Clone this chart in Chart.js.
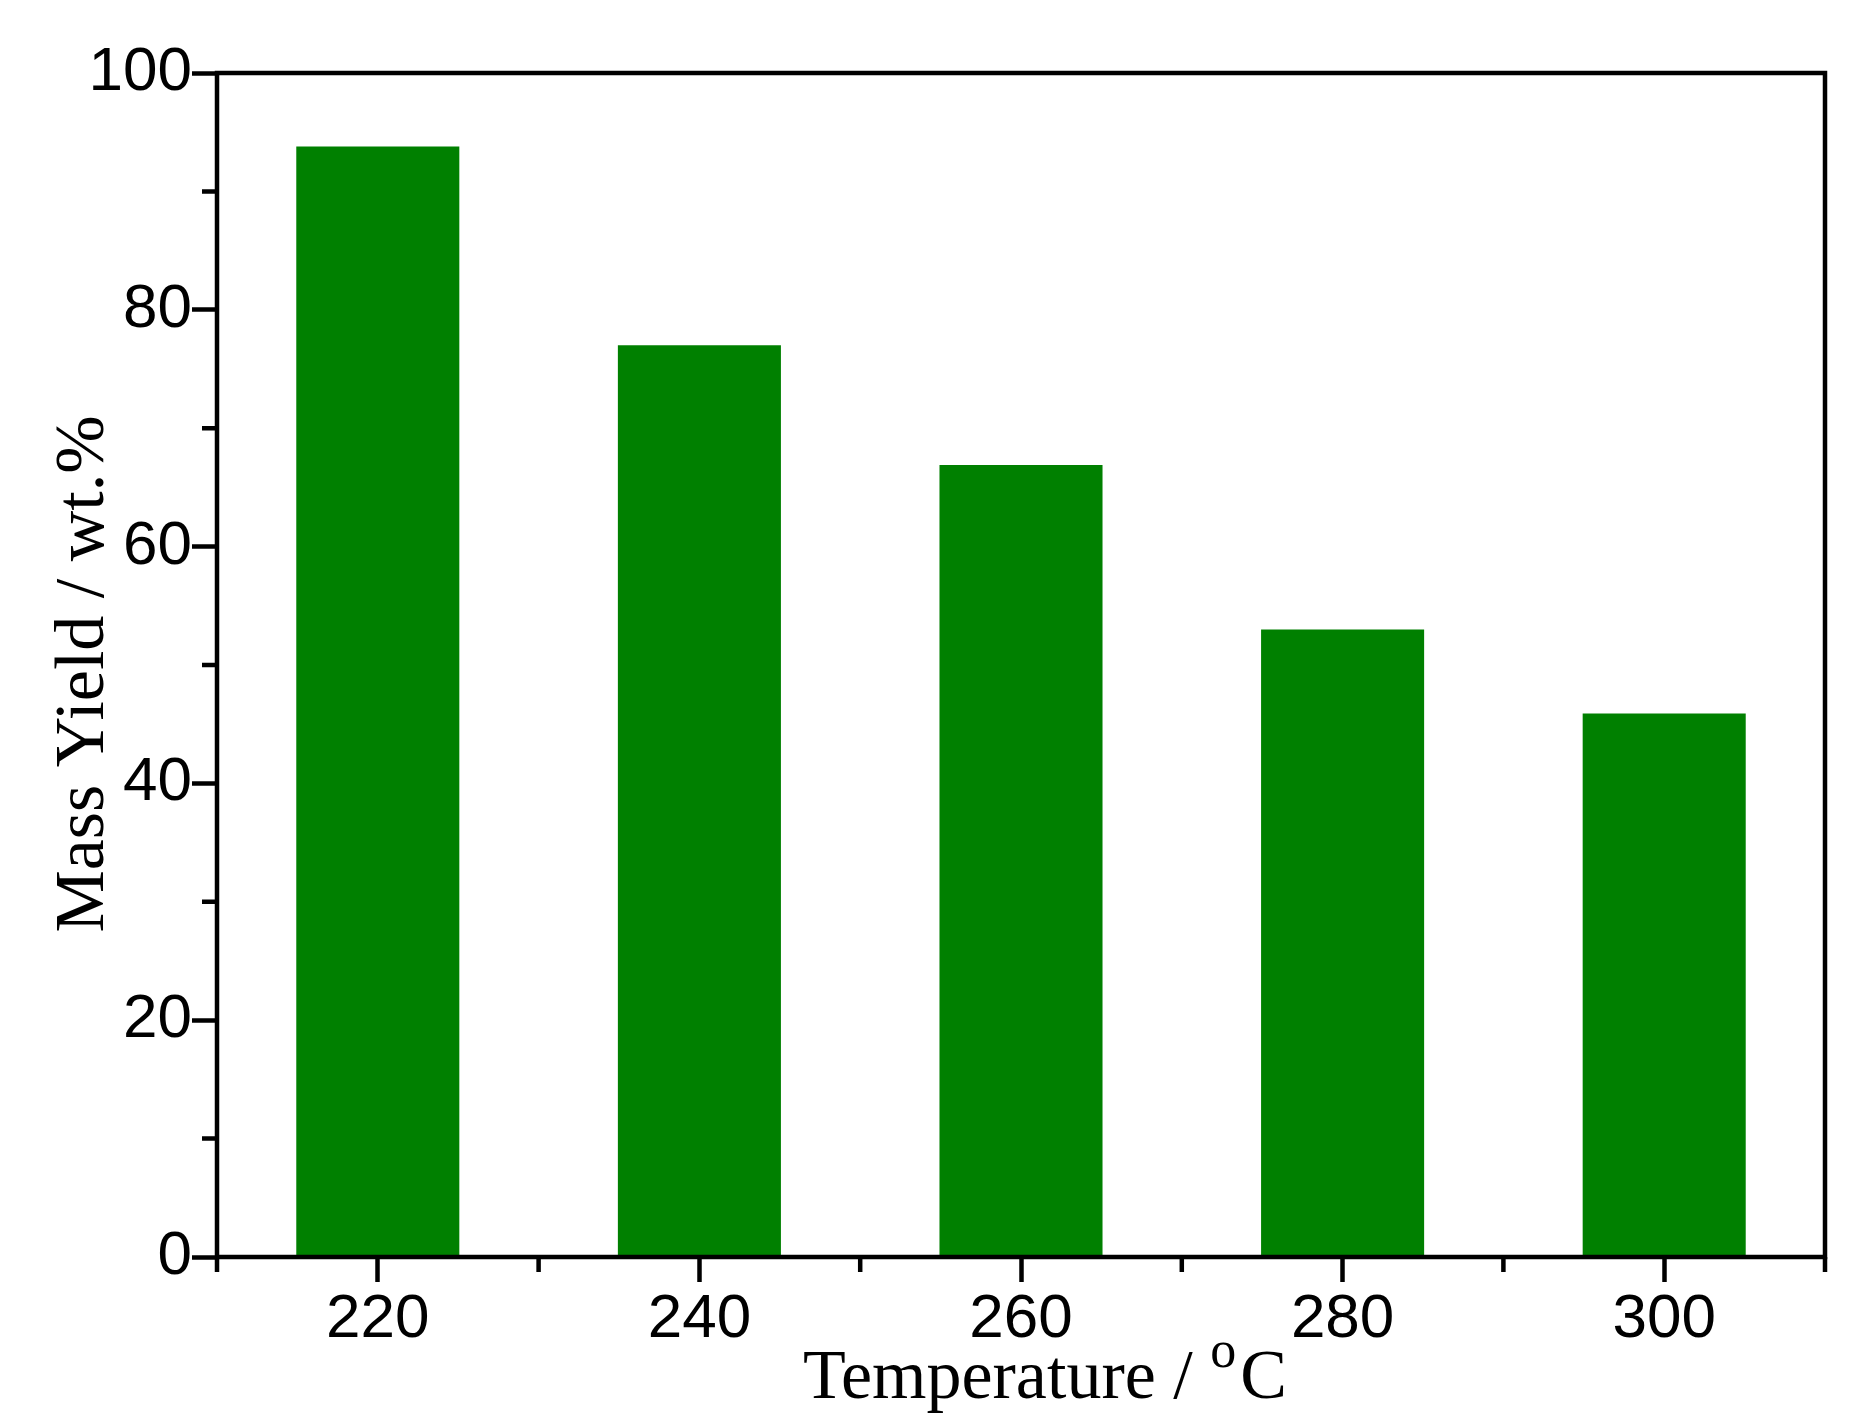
<!DOCTYPE html>
<html>
<head>
<meta charset="utf-8">
<script src="https://cdn.jsdelivr.net/npm/chart.js@4/dist/chart.umd.min.js"></script>
<style>
  html, body { margin: 0; padding: 0; background: #fff; }
  #wrap { width: 1866px; height: 1428px; position: relative; }
</style>
</head>
<body>
<div id="wrap"><canvas id="chart"></canvas></div>
<script>
/* ---------- data ---------- */
const temperatures = ['220', '240', '260', '280', '300'];
const massYield    = [93.8, 77.0, 66.9, 53.0, 45.9];
const yTicks       = [0, 20, 40, 60, 80, 100];
const yMinorTicks  = [10, 30, 50, 70, 90];

/* ---------- look ---------- */
const LINE = 4.5;
const MAJOR = 25;
const MINOR = 15;
const SERIF = '"Liberation Serif", "Times New Roman", serif';

// frame, minor ticks and both axis titles (x one has a superscript "o")
const framePlugin = {
  id: 'frame',
  afterDatasetsDraw(chart) {
    const { ctx, chartArea: a, scales } = chart;
    ctx.save();
    ctx.strokeStyle = '#000';
    ctx.lineWidth = LINE;
    ctx.lineCap = 'butt';
    ctx.strokeRect(a.left, a.top, a.right - a.left, a.bottom - a.top);

    // minor ticks on y
    ctx.beginPath();
    yMinorTicks.forEach(v => {
      const y = scales.y.getPixelForValue(v);
      ctx.moveTo(a.left, y);
      ctx.lineTo(a.left - MINOR, y);
    });
    // minor ticks on x: category edges
    const xs = scales.x;
    const edges = [xs.left];
    for (let i = 0; i < temperatures.length - 1; i++) {
      edges.push((xs.getPixelForTick(i) + xs.getPixelForTick(i + 1)) / 2);
    }
    edges.push(xs.right);
    edges.forEach(x => {
      ctx.moveTo(x, a.bottom);
      ctx.lineTo(x, a.bottom + MINOR);
    });
    ctx.stroke();
    ctx.restore();
  },
  afterDraw(chart) {
    const { ctx, chartArea: a } = chart;
    const big = '70px ' + SERIF;
    const small = '52px ' + SERIF;
    const main = 'Temperature / ';
    ctx.save();
    ctx.fillStyle = '#000';
    ctx.textBaseline = 'alphabetic';
    ctx.textAlign = 'left';

    // x title
    ctx.font = big;
    const w1 = ctx.measureText(main).width;
    const w3 = ctx.measureText('C').width;
    ctx.font = small;
    const w2 = ctx.measureText('o').width;
    const total = w1 + w2 + w3 + 4;
    let x = (a.left + a.right) / 2 + 24 - total / 2;
    const base = 1398;
    ctx.font = big;
    ctx.fillText(main, x, base);
    x += w1;
    ctx.font = small;
    ctx.fillText('o', x, base - 31);
    x += w2 + 4;
    ctx.font = big;
    ctx.fillText('C', x, base);

    // y title
    ctx.translate(103, (a.top + a.bottom) / 2 + 9);
    ctx.rotate(-Math.PI / 2);
    ctx.textAlign = 'center';
    ctx.font = big;
    ctx.fillText('Mass Yield / wt.%', 0, 0);
    ctx.restore();
  }
};

/* ---------- chart ---------- */
document.addEventListener('DOMContentLoaded', () => {
  const ctx = document.getElementById('chart').getContext('2d');
  const tickFont = { family: '"Liberation Sans", Arial, sans-serif', size: 62 };

  new Chart(ctx, {
    type: 'bar',
    data: {
      labels: temperatures,
      datasets: [{
        data: massYield,
        backgroundColor: '#008000',
        borderWidth: 0,
        categoryPercentage: 1,
        barPercentage: 0.507
      }]
    },
    options: {
      responsive: true,
      maintainAspectRatio: false,
      animation: false,
      devicePixelRatio: 1,
      layout: { padding: { top: 73, right: 41, left: 0, bottom: 0 } },
      plugins: { legend: { display: false }, tooltip: { enabled: false } },
      scales: {
        x: {
          offset: true,
          grid: {
            offset: false,
            drawOnChartArea: false,
            drawTicks: true,
            tickLength: MAJOR,
            tickWidth: LINE,
            tickColor: '#000'
          },
          border: { display: false },
          ticks: { color: '#000', font: tickFont, padding: 1, maxRotation: 0 },
          afterFit(scale) { scale.height = 1428 - 1257; }
        },
        y: {
          min: 0,
          max: 100,
          afterBuildTicks(scale) { scale.ticks = yTicks.map(v => ({ value: v })); },
          grid: {
            drawOnChartArea: false,
            drawTicks: true,
            tickLength: MAJOR,
            tickWidth: LINE,
            tickColor: '#000'
          },
          border: { display: false },
          ticks: { color: '#000', font: tickFont, padding: 0 },
          afterFit(scale) { scale.width = 217; }
        }
      }
    },
    plugins: [framePlugin]
  });
});
</script>
</body>
</html>
